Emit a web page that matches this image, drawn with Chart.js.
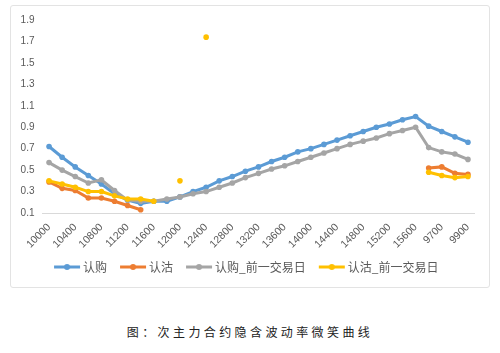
<!DOCTYPE html>
<html>
<head>
<meta charset="utf-8">
<script src="https://cdn.jsdelivr.net/npm/chart.js@4/dist/chart.umd.min.js"></script>
<style>
  html, body { margin: 0; padding: 0; background: #fff; width: 500px; height: 353px; overflow: hidden; }
  #box { position: absolute; left: 10px; top: 5px; width: 480px; height: 283px; border: 1px solid #e3e3e3; border-radius: 3px; box-sizing: border-box; }
  #wrap { position: absolute; left: 0; top: 0; width: 478px; height: 281px; }
  #caption { position: absolute; left: 0; width: 500px; top: 323px; text-align: center; font-family: "Noto Sans CJK SC", sans-serif; font-size: 12px; letter-spacing: 3.4px; color: #222; }
</style>
</head>
<body>
<div id="box"><div id="wrap"><canvas id="c"></canvas></div></div>
<div id="caption">图：次主力合约隐含波动率微笑曲线</div>
<script>
const categories = ['10000','10200','10400','10600','10800','11000','11200','11400','11600','11800',
  '12000','12200','12400','12600','12800','13000','13200','13400','13600','13800',
  '14000','14200','14400','14600','14800','15000','15200','15400','15600','9600','9700','9800','9900'];
const seriesNames = ['认购','认沽','认购_前一交易日','认沽_前一交易日'];
const callToday = [0.72,0.62,0.53,0.45,0.37,0.28,0.22,0.19,0.21,0.21,
  0.25,0.30,0.34,0.40,0.44,0.49,0.53,0.58,0.62,0.67,
  0.70,0.74,0.78,0.82,0.86,0.90,0.93,0.97,1.00,0.91,0.86,0.81,0.76];
const putToday = [0.39,0.33,0.31,0.24,0.24,0.21,0.17,0.13,null,null,
  null,null,null,null,null,null,null,null,null,null,
  null,null,null,null,null,null,null,null,null,0.52,0.53,0.47,0.46];
const callPrev = [0.57,0.50,0.44,0.38,0.41,0.31,0.22,0.21,0.21,0.23,
  0.25,0.28,0.30,0.34,0.38,0.43,0.47,0.51,0.54,0.58,
  0.62,0.66,0.70,0.74,0.77,0.80,0.84,0.87,0.90,0.71,0.67,0.65,0.60];
const putPrev = [0.40,0.37,0.34,0.30,0.30,0.26,0.23,0.23,0.21,null,
  0.40,null,1.74,null,null,null,null,null,null,null,
  null,null,null,null,null,null,null,null,null,0.48,0.45,0.43,0.44];
const yTicks = [0.1,0.3,0.5,0.7,0.9,1.1,1.3,1.5,1.7,1.9];
const colors = ['#5B9BD5','#ED7D31','#A5A5A5','#FFC000'];

// legend icon: line with dot; drawn inside a wider transparent image so it sits at the right of the legend box
function legendIcon(color) {
  const cv = document.createElement('canvas');
  cv.width = 40; cv.height = 8;
  const g = cv.getContext('2d');
  g.strokeStyle = color; g.lineWidth = 3;
  g.beginPath(); g.moveTo(12, 4); g.lineTo(38, 4); g.stroke();
  g.fillStyle = color;
  g.beginPath(); g.arc(25, 4, 3, 0, Math.PI * 2); g.fill();
  return cv;
}
const icons = colors.map(legendIcon);

const allSeries = [callToday, putToday, callPrev, putPrev];
const datasets = allSeries.map((d, i) => ({
  label: seriesNames[i],
  data: d,
  borderColor: colors[i],
  backgroundColor: colors[i],
  borderWidth: 3,
  pointRadius: 2.8,
  pointHoverRadius: 2.8,
  pointBorderWidth: 0,
  tension: 0,
  spanGaps: false,
  order: -i
}));

new Chart(document.getElementById('c'), {
  type: 'line',
  data: { labels: categories, datasets },
  options: {
    responsive: true,
    maintainAspectRatio: false,
    animation: false,
    events: [],
    layout: { padding: { top: 12, left: 0, right: 14.5, bottom: 4 } },
    plugins: {
      tooltip: { enabled: false },
      legend: {
        position: 'bottom',
        labels: {
          usePointStyle: true,
          pointStyleWidth: 30,
          boxHeight: 8,
          padding: 6,
          color: '#595959',
          font: { family: '"Noto Sans CJK SC", sans-serif', size: 12 },
          sort: (a, b) => a.datasetIndex - b.datasetIndex,
          generateLabels(chart) {
            const items = Chart.defaults.plugins.legend.labels.generateLabels(chart);
            items.forEach(it => { it.pointStyle = icons[it.datasetIndex]; });
            return items;
          }
        }
      }
    },
    scales: {
      x: {
        offset: true,
        grid: { display: false, drawTicks: false },
        border: { display: true, color: '#d9d9d9', width: 1 },
        ticks: {
          autoSkip: false,
          maxRotation: 45,
          minRotation: 45,
          padding: 8,
          color: '#595959',
          font: { family: 'Liberation Sans, sans-serif', size: 10.5 },
          callback(v, i) { return i % 2 === 0 ? categories[i] : null; }
        },
        afterFit(s) { s.height = 42; }
      },
      y: {
        min: 0.1,
        max: 1.9,
        afterBuildTicks(s) { s.ticks = yTicks.map(v => ({ value: v })); },
        grid: { display: false, drawTicks: false },
        border: { display: false },
        ticks: {
          padding: 8,
          color: '#595959',
          font: { family: 'Liberation Sans, sans-serif', size: 10 },
          callback(v) { return v.toFixed(1); }
        },
        afterFit(s) { s.width = 31.5; }
      }
    }
  }
});
</script>
</body>
</html>
